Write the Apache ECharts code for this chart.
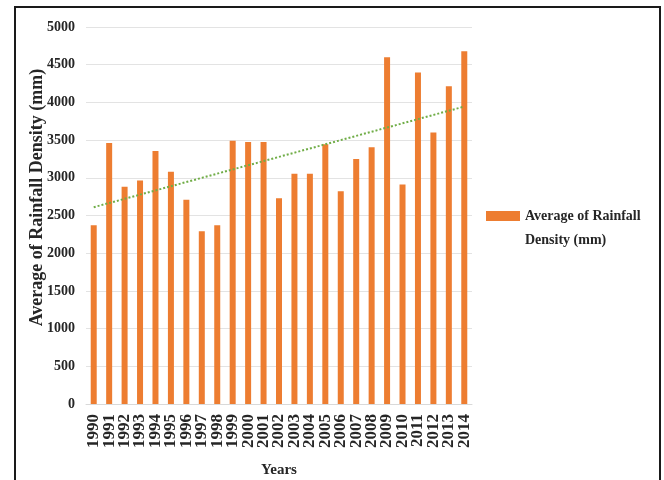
<!DOCTYPE html>
<html>
<head>
<meta charset="utf-8">
<script src="https://cdn.jsdelivr.net/npm/echarts@6/dist/echarts.min.js"></script>
<style>
  html, body { margin: 0; padding: 0; background: #fff; }
  #chart { width: 664px; height: 480px; }
</style>
</head>
<body>
<div id="chart"></div>
<script>
// Yearly average rainfall density (mm), 1990-2014
const years = ['1990','1991','1992','1993','1994','1995','1996','1997','1998','1999',
               '2000','2001','2002','2003','2004','2005','2006','2007','2008','2009',
               '2010','2011','2012','2013','2014'];
const rainfall = [2370, 3460, 2880, 2965, 3355, 3080, 2710, 2290, 2370, 3490,
                  3475, 3475, 2730, 3055, 3055, 3445, 2820, 3250, 3405, 4600,
                  2910, 4395, 3600, 4215, 4680];
// Linear trend: values at the first and last year
const trendEnds = [2610, 3945];
const yTicks = [0, 500, 1000, 1500, 2000, 2500, 3000, 3500, 4000, 4500, 5000];

const trend = years.map((y, i) =>
  i === 0 ? trendEnds[0] : (i === years.length - 1 ? trendEnds[1] : null));

const FONT = 'Liberation Serif';
const chart = echarts.init(document.getElementById('chart'));
chart.setOption({
  animation: false,
  backgroundColor: '#fff',
  textStyle: { fontFamily: FONT },
  grid: { left: 86, right: 192, top: 27, bottom: 76, containLabel: false,
          outerBoundsMode: 'none' },
  legend: {
    data: [{ name: 'Average of Rainfall Density (mm)', icon: 'rect' }],
    left: 486, top: 180, padding: 0,
    itemWidth: 34, itemHeight: 10,
    // leading blank line keeps the swatch level with the first text line
    formatter: () => '\nAverage of Rainfall\nDensity (mm)',
    textStyle: { fontFamily: FONT, fontWeight: 'bold', fontSize: 14, color: '#262626',
                 lineHeight: 24 }
  },
  xAxis: {
    type: 'category',
    data: years,
    name: 'Years',
    nameLocation: 'middle',
    nameGap: 59,
    nameTextStyle: { fontFamily: FONT, fontWeight: 'bold', fontSize: 15, color: '#262626' },
    axisLine: { show: true, lineStyle: { color: '#d9d9d9', width: 1 } },
    axisTick: { show: false },
    axisLabel: { rotate: 90, interval: 0, margin: 10, fontFamily: FONT, fontWeight: 'bold',
                 fontSize: 17, color: '#262626' }
  },
  yAxis: {
    type: 'value',
    min: yTicks[0], max: yTicks[yTicks.length - 1], interval: 500,
    name: 'Average of Rainfall Density (mm)',
    nameLocation: 'middle',
    nameGap: 40,
    nameMoveOverlap: false,
    nameRotate: 90,
    nameTextStyle: { fontFamily: FONT, fontWeight: 'bold', fontSize: 18, color: '#262626',
                     padding: [0, 0, 0, 36] },
    axisLine: { show: false },
    axisTick: { show: false },
    splitLine: { lineStyle: { color: '#e3e3e3', width: 1 } },
    axisLabel: { margin: 11, fontFamily: FONT, fontWeight: 'bold', fontSize: 14, color: '#262626',
                 formatter: v => String(v) }
  },
  series: [
    {
      name: 'Average of Rainfall Density (mm)',
      type: 'bar',
      data: rainfall,
      barWidth: 6,
      itemStyle: { color: '#ed7d31' }
    },
    {
      name: 'trend',
      type: 'line',
      data: trend,
      connectNulls: true,
      symbol: 'none',
      lineStyle: { color: '#70ad47', width: 2, type: 'dotted' },
      z: 3
    }
  ],
  graphic: [{
    type: 'rect',
    shape: { x: 15, y: 7, width: 645, height: 478 },
    style: { fill: 'none', stroke: '#1a1a1a', lineWidth: 2 },
    silent: true
  }]
});
</script>
</body>
</html>
